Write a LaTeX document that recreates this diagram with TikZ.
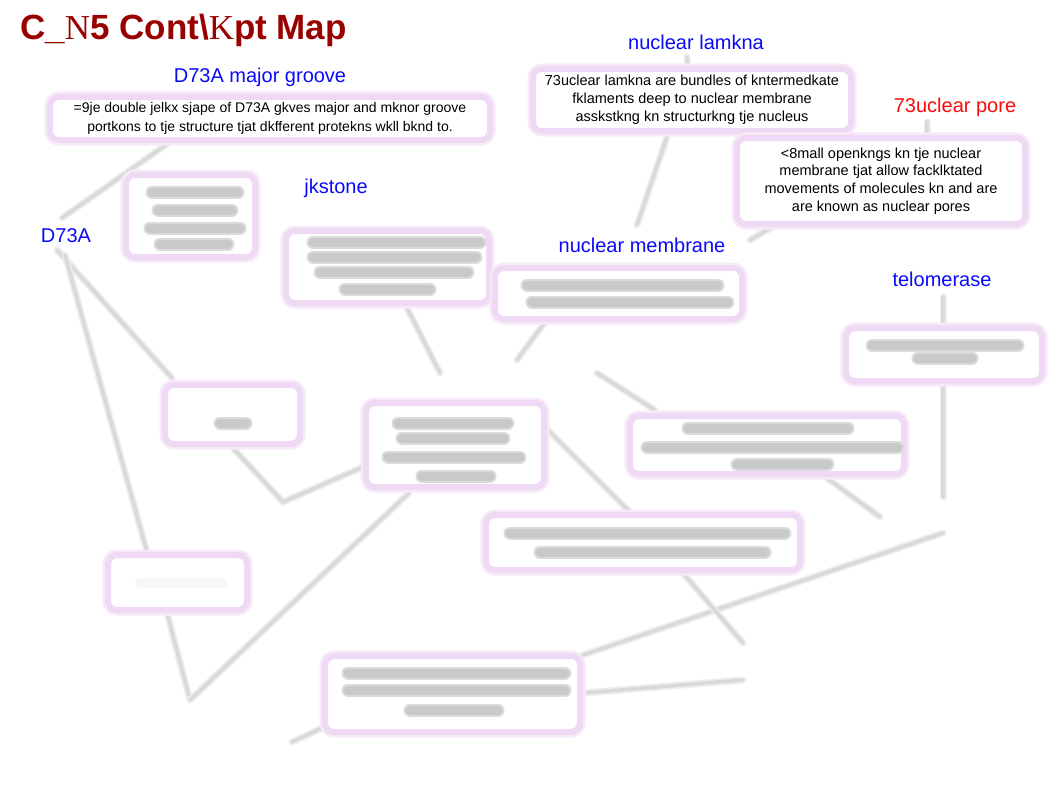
\documentclass[tikz,border=0pt]{standalone}
\usepackage{fontspec}
\setmainfont{Liberation Sans}
\newfontfamily\serifN{Liberation Serif}
\definecolor{pk}{RGB}{239,217,244}
\definecolor{ttl}{RGB}{153,0,0}
\definecolor{lblue}{RGB}{10,10,250}
\definecolor{lred}{RGB}{250,10,10}
\begin{document}
\begin{tikzpicture}[x=1pt,y=-1pt,
 conn/.style={draw=black!15, line width=3.5pt, line cap=round, preaction={draw=black!7, line width=7pt, line cap=round}},
 pbox/.style={draw=pk, line width=6pt, fill=white, rounded corners=9pt, inner sep=0pt, preaction={draw=pk!55, line width=11pt}},
 blob/.style={draw=black!21, line width=9pt, line cap=round, preaction={draw=black!14, line width=13pt, line cap=round}},
 lbl/.style={text=lblue, font=\fontsize{20}{24}\selectfont, inner sep=0pt},
 btxt/.style={font=\fontsize{14}{19}\selectfont, align=center}]
\fill[white] (0,0) rectangle (1062,797);
\useasboundingbox (0,0) rectangle (1062,797);

% title and labels
\node[anchor=base west, text=ttl, font=\fontsize{35}{40}\selectfont\bfseries, inner sep=0pt] (title) at (20,40)
 {C\_{\serifN\mdseries N}5 Cont\textbackslash{\serifN\mdseries K}pt Map};
\node[lbl] (maj) at (260,77) {D73A major groove};
\node[lbl] (lam) at (696,42) {nuclear lamkna};
\node[lbl, text=lred] (pore) at (955,107) {73uclear pore};
\node[lbl] (jk) at (336,188) {jkstone};
\node[lbl] (dna) at (66,236) {D73A};
\node[lbl] (mem) at (642,245) {nuclear membrane};
\node[lbl] (tel) at (942,279) {telomerase};

% connector end points
\coordinate (c1a) at (62,218); \coordinate (c1b) at (170,142);
\coordinate (c2a) at (57,250); \coordinate (c2b) at (172,378);
\coordinate (c3a) at (65,255); \coordinate (c3b) at (190,700);
\coordinate (c4b) at (410,492);
\coordinate (c5a) at (233,448); \coordinate (c5b) at (283,502); \coordinate (c5c) at (363,467);
\coordinate (c6a) at (407,308); \coordinate (c6b) at (440,373);
\coordinate (c7a) at (545,322); \coordinate (c7b) at (517,360);
\coordinate (c8a) at (597,373); \coordinate (c8b) at (655,410);
\coordinate (c9a) at (548,430); \coordinate (c9b) at (630,512);
\coordinate (c10a) at (827,478); \coordinate (c10b) at (880,517);
\coordinate (c11a) at (943,533); \coordinate (c11b) at (583,655);
\coordinate (c12a) at (683,573); \coordinate (c12b) at (743,643);
\coordinate (c13a) at (583,693); \coordinate (c13b) at (743,680);
\coordinate (c14a) at (943,297); \coordinate (c14b) at (943,323);
\coordinate (c15a) at (943,383); \coordinate (c15b) at (943,497);
\coordinate (c16a) at (668,134); \coordinate (c16b) at (637,225);
\coordinate (c17a) at (687,57); \coordinate (c17b) at (688,68);
\coordinate (c18a) at (927,122); \coordinate (c18b) at (927,137);
\coordinate (c19a) at (774,226); \coordinate (c19b) at (750,240);
\coordinate (c20a) at (322,728); \coordinate (c20b) at (292,742);

% connectors
\draw[conn] (c1a) -- (c1b);
\draw[conn] (c2a) -- (c2b);
\draw[conn] (c3a) -- (147,552) (167,613) -- (c3b);
\draw[conn] (c3b) -- (c4b);
\draw[conn] (c5a) -- (c5b) -- (c5c);
\draw[conn] (c6a) -- (c6b);
\draw[conn] (c7a) -- (c7b);
\draw[conn] (c8a) -- (c8b);
\draw[conn] (c9a) -- (c9b);
\draw[conn] (c10a) -- (c10b);
\draw[conn] (c11a) -- (c11b);
\draw[conn] (c12a) -- (c12b);
\draw[conn] (c13a) -- (c13b);
\draw[conn] (c14a) -- (c14b);
\draw[conn] (c15a) -- (c15b);
\draw[conn] (c16a) -- (c16b);
\draw[conn] (c17a) -- (c17b);
\draw[conn] (c18a) -- (c18b);
\draw[conn] (c19a) -- (c19b);
\draw[conn] (c20a) -- (c20b);

% readable boxes
\node[pbox, btxt, minimum width=440pt, minimum height=43pt] (b1) at (270,118.5)
 {=9je double jelkx sjape of D73A gkves major and mknor groove\\portkons to tje structure tjat dkfferent protekns wkll bknd to.};
\node[pbox, btxt, font=\fontsize{14.5}{18}\selectfont, minimum width=318pt, minimum height=62pt] (b2) at (692,100)
 {73uclear lamkna are bundles of kntermedkate\\fklaments deep to nuclear membrane\\asskstkng kn structurkng tje nucleus};
\node[pbox, btxt, font=\fontsize{14.5}{17.6}\selectfont, minimum width=288pt, minimum height=86pt] (b3) at (881,181)
 {<8mall openkngs kn tje nuclear\\membrane tjat allow facklktated\\movements of molecules kn and are\\are known as nuclear pores};

% blurred boxes
\node[pbox, minimum width=129pt, minimum height=82pt] (ba) at (190.5,216) {};
\node[pbox, minimum width=203pt, minimum height=72pt] (bb) at (387.5,267) {};
\node[pbox, minimum width=247pt, minimum height=51pt] (bc) at (618.5,293.5) {};
\node[pbox, minimum width=196pt, minimum height=53pt] (bd) at (944,354.5) {};
\node[pbox, minimum width=135pt, minimum height=59pt] (be) at (232.5,414.5) {};
\node[pbox, minimum width=178pt, minimum height=84pt] (bf) at (455,445) {};
\node[pbox, minimum width=274pt, minimum height=58pt] (bg) at (767,445) {};
\node[pbox, minimum width=314pt, minimum height=55pt] (bh) at (643,542.5) {};
\node[pbox, minimum width=139pt, minimum height=55pt] (bi) at (177.5,582.5) {};
\node[pbox, minimum width=255pt, minimum height=76pt] (bj) at (452.5,694) {};

% blurred text inside
\draw[blob] (152,192) -- (238,192) (158,210) -- (232,210) (150,228) -- (240,228) (160,244) -- (228,244);
\draw[blob] (313,242) -- (480,242) (313,257) -- (476,257) (320,272) -- (468,272) (345,289) -- (430,289);
\draw[blob] (527,285) -- (718,285) (532,302) -- (728,302);
\draw[blob] (872,345) -- (1018,345) (918,358) -- (972,358);
\draw[blob] (220,423) -- (246,423);
\draw[blob] (398,423) -- (508,423) (402,438) -- (504,438) (388,457) -- (520,457) (422,476) -- (490,476);
\draw[blob] (688,428) -- (848,428) (647,447) -- (898,447) (737,464) -- (828,464);
\draw[blob] (510,533) -- (785,533) (540,552) -- (765,552);
\draw[draw=black!3, line width=10pt, line cap=round] (140,583) -- (222,583);
\draw[blob] (348,673) -- (565,673) (348,690) -- (565,690) (410,710) -- (498,710);
\end{tikzpicture}
\end{document}
